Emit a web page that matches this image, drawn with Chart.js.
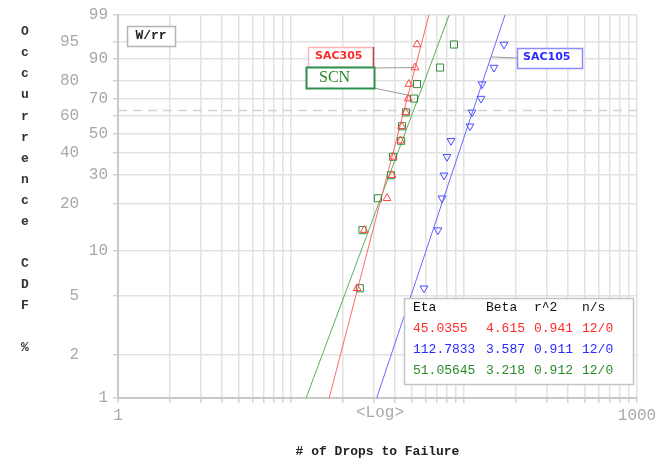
<!DOCTYPE html>
<html>
<head>
<meta charset="utf-8">
<script src="https://cdn.jsdelivr.net/npm/chart.js@4.4.1/dist/chart.umd.min.js"></script>
<style>
  html, body { margin: 0; padding: 0; background: #fff; }
  #wrap { width: 669px; height: 462px; }
</style>
</head>
<body>
<div id="wrap"><canvas id="c" width="669" height="462"></canvas></div>
<script>
// ---- data -------------------------------------------------------------
const seriesNames = ['SAC305', 'SAC105', 'SCN'];
// median-rank plotting positions (%) for 12 failures
const rankPct = [5.65, 13.71, 21.77, 29.84, 37.90, 45.97, 54.03, 62.10, 70.16, 78.23, 86.29, 94.35];
const sac305Drops = [24.1, 26.5, 35.9, 38.4, 38.9, 43.0, 43.6, 46.0, 47.6, 48.0, 52.1, 53.5];
const sac105Drops = [58.7, 70.7, 74.6, 76.6, 79.7, 84.1, 108.3, 111.3, 125.4, 127.1, 149.0, 170.3];
const scnDrops    = [25.0, 25.9, 31.8, 37.8, 38.9, 43.3, 43.8, 46.2, 51.4, 53.5, 72.7, 87.5];
// Weibull fit parameters (SAC305, SAC105, SCN)
const etaText  = ['45.0355', '112.7833', '51.05645'];
const betaText = ['4.615', '3.587', '3.218'];
const r2Text   = ['0.941', '0.911', '0.912'];
const nsText   = ['12/0', '12/0', '12/0'];
const characteristicPct = 63.2;
// axis ticks
const yTickValues = [1, 2, 5, 10, 20, 30, 40, 50, 60, 70, 80, 90, 95, 99];
const yTickShifted = [2, 5, 20, 40, 60, 80, 95];
const xGridValues = [1, 2, 3, 4, 5, 6, 7, 8, 9, 10, 20, 30, 40, 50, 60, 70, 80, 90, 100, 200, 300, 400, 500, 600, 700, 800, 900, 1000];
const xTickLabels = { 1: '1', 1000: '1000' };

// ---- styles -----------------------------------------------------------
const MONO = "'Liberation Mono', 'Courier New', monospace";
const colors = {
  SAC305: { line: '#ff6a6a', mark: '#ff4545', text: '#ff2a2a' },
  SAC105: { line: '#6a6aff', mark: '#4a4aff', text: '#2a2aff' },
  SCN:    { line: '#5cb05c', mark: '#2f8f3a', text: '#2a8a2a' }
};

// ---- Weibull probability scale ---------------------------------------
const wb = p => Math.log(-Math.log(1 - p / 100));
class WeibullScale extends Chart.LinearScale {
  static id = 'weibull';
  buildTicks() { return yTickValues.map(v => ({ value: v })); }
  getPixelForValue(v) {
    const a = wb(this.min), b = wb(this.max);
    return this.getPixelForDecimal((wb(v) - a) / (b - a));
  }
  getValueForPixel(px) {
    const a = wb(this.min), b = wb(this.max);
    const t = a + this.getDecimalForPixel(px) * (b - a);
    return 100 * (1 - Math.exp(-Math.exp(t)));
  }
}
Chart.register(WeibullScale);

const eta = etaText.map(Number);
const beta = betaText.map(Number);
const fitX = (i, p) => eta[i] * Math.pow(-Math.log(1 - p / 100), 1 / beta[i]);
const fitLine = i => [1, 99].map(p => ({ x: fitX(i, p), y: p }));
const pts = arr => arr.map((d, i) => ({ x: d, y: rankPct[i] }));

const pointSet = (name, drops, style, rot, r) => ({
  label: name, data: pts(drops), showLine: false,
  pointStyle: style, rotation: rot, pointRadius: r,
  pointBorderColor: colors[name].mark, pointBackgroundColor: 'rgba(0,0,0,0)',
  pointBorderWidth: 1
});
const lineSet = (name, i) => ({
  label: name + ' fit', data: fitLine(i), showLine: true,
  borderColor: colors[name].line, borderWidth: 1, pointRadius: 0
});

// ---- annotation drawing ----------------------------------------------
function box(ctx, x, y, w, h, stroke, lw) {
  ctx.fillStyle = '#fff';
  ctx.fillRect(x, y, w, h);
  ctx.strokeStyle = stroke;
  ctx.lineWidth = lw;
  ctx.strokeRect(x + 0.5, y + 0.5, w, h);
}

const annot = {
  id: 'annot',
  beforeDatasetsDraw(chart) {
    const { ctx, scales: { x, y } } = chart;
    ctx.save();
    ctx.strokeStyle = '#9a9a9a';
    ctx.lineWidth = 1;
    // leader lines from the series labels
    const leaders = [
      [373, 68, x.getPixelForValue(sac305Drops[10]), y.getPixelForValue(rankPct[10])],
      [374, 88, x.getPixelForValue(scnDrops[8]) - 4, y.getPixelForValue(rankPct[8]) - 3],
      [517, 58, x.getPixelForValue(fitX(1, 90.5)), y.getPixelForValue(90.5)]
    ];
    leaders.forEach(([x0, y0, x1, y1]) => {
      ctx.beginPath(); ctx.moveTo(x0, y0); ctx.lineTo(x1, y1); ctx.stroke();
    });
    ctx.restore();
  },
  afterDraw(chart) {
    const ctx = chart.ctx;
    ctx.save();
    // vertical axis title, one letter per row
    const yTitle = 'Occurrence CDF %';
    ctx.font = `bold 13px ${MONO}`;
    ctx.fillStyle = '#333';
    ctx.textAlign = 'center';
    ctx.textBaseline = 'middle';
    for (let i = 0; i < yTitle.length; i++) {
      ctx.fillText(yTitle[i], 25, 32 + i * 21.07);
    }
    // scale note under the x axis
    ctx.font = `16px ${MONO}`;
    ctx.fillStyle = '#a8a8a8';
    ctx.fillText('<Log>', 380, 413);

    // method box
    box(ctx, 127, 26, 48, 20, '#b5b5b5', 1.5);
    ctx.font = `bold 13px ${MONO}`;
    ctx.fillStyle = '#222';
    ctx.fillText('W/rr', 151, 36);

    // series labels
    ctx.textAlign = 'left';
    box(ctx, 308, 47, 65, 20, '#ffb3b3', 1.5);
    ctx.strokeStyle = '#b04848'; ctx.lineWidth = 1.5;
    ctx.beginPath(); ctx.moveTo(373.5, 47); ctx.lineTo(373.5, 67); ctx.stroke();
    ctx.font = "bold 11px 'DejaVu Sans', sans-serif";
    ctx.fillStyle = colors.SAC305.text;
    ctx.fillText(seriesNames[0], 315, 56);

    box(ctx, 306, 67, 68, 21, '#2f8f4f', 2);
    ctx.font = "16px 'Liberation Serif', serif";
    ctx.fillStyle = colors.SCN.text;
    ctx.fillText(seriesNames[2], 319, 78);

    box(ctx, 517, 48, 65, 20, '#8c8cff', 1.5);
    ctx.font = "bold 11px 'DejaVu Sans', sans-serif";
    ctx.fillStyle = colors.SAC105.text;
    ctx.fillText(seriesNames[1], 523, 57);

    // parameter table
    box(ctx, 404, 298, 229, 86, '#c4c4c4', 1.5);
    ctx.font = `13px ${MONO}`;
    const cols = [413, 486, 534, 582];
    ctx.fillStyle = '#111';
    ['Eta', 'Beta', 'r^2', 'n/s'].forEach((t, j) => ctx.fillText(t, cols[j], 308));
    const rowColors = [colors.SAC305.text, colors.SAC105.text, colors.SCN.text];
    for (let i = 0; i < 3; i++) {
      ctx.fillStyle = rowColors[i];
      const cells = [etaText[i], betaText[i], r2Text[i], nsText[i]];
      cells.forEach((t, j) => ctx.fillText(t, cols[j], 329 + i * 21));
    }
    ctx.restore();
  }
};

// ---- chart ------------------------------------------------------------
new Chart(document.getElementById('c'), {
  type: 'scatter',
  data: {
    datasets: [
      pointSet('SAC305', sac305Drops, 'triangle', 0, 4.5),
      pointSet('SCN', scnDrops, 'rect', 0, 5),
      pointSet('SAC105', sac105Drops, 'triangle', 180, 4.5),
      lineSet('SAC305', 0),
      lineSet('SAC105', 1),
      lineSet('SCN', 2),
      {
        label: 'eta level', showLine: true, pointRadius: 0,
        data: [{ x: 1, y: characteristicPct }, { x: 1000, y: characteristicPct }],
        borderColor: '#d2d2d2', borderWidth: 1.5, borderDash: [9, 6]
      }
    ]
  },
  options: {
    responsive: false,
    animation: false,
    devicePixelRatio: 1,
    layout: { padding: { left: 0, right: 32, top: 15, bottom: 0 } },
    plugins: { legend: { display: false }, tooltip: { enabled: false } },
    scales: {
      x: {
        type: 'logarithmic', min: 1, max: 1000, position: 'bottom',
        afterBuildTicks: s => { s.ticks = xGridValues.map(v => ({ value: v })); },
        afterFit: s => { s.height = 64; },
        ticks: {
          autoSkip: false, maxRotation: 0, minRotation: 0, padding: 3,
          color: '#a8a8a8', font: { family: MONO, size: 16 },
          callback: v => xTickLabels[v] ?? ''
        },
        grid: { color: '#e2e2e2', lineWidth: 1.5, tickLength: 5, tickColor: '#d4d4d4' },
        border: { color: '#c8c8c8', width: 2 },
        title: {
          display: true, text: '# of Drops to Failure', color: '#222',
          font: { family: MONO, size: 13, weight: 'bold' }, padding: { top: 0, bottom: 2 }
        }
      },
      y: {
        type: 'weibull', min: 1, max: 99,
        afterFit: s => { s.width = 118; },
        ticks: {
          autoSkip: false, padding: 5, color: '#a8a8a8', font: { family: MONO, size: 16 },
          callback: v => yTickShifted.includes(v) ? v + '   ' : String(v)
        },
        grid: { color: '#e2e2e2', lineWidth: 1.5, tickLength: 5, tickColor: '#d4d4d4' },
        border: { color: '#c8c8c8', width: 2 }
      }
    }
  },
  plugins: [annot]
});
</script>
</body>
</html>
